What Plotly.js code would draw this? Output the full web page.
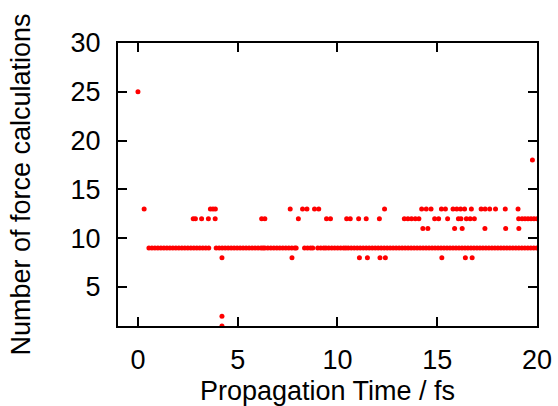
<!DOCTYPE html>
<html>
<head>
<meta charset="utf-8">
<script src="https://cdn.plot.ly/plotly-3.0.1.min.js"></script>
<style>html,body{margin:0;padding:0;background:#fff;}#chart{width:558px;height:406px;}</style>
</head>
<body>
<div id="chart"></div>
<script>
// Propagation times (fs) grouped by number of force calculations
const t9 = [0.55,0.7,0.85,1.0,1.15,1.3,1.45,1.6,1.75,1.9,2.05,2.2,2.35,2.5,2.65,2.8,2.95,3.1,3.25,3.4,3.55,
  3.92,4.07,4.22,4.37,4.52,4.67,4.82,4.97,5.12,5.27,5.42,5.57,5.72,5.87,6.02,6.17,6.27,
  6.36,6.51,6.66,6.81,6.96,7.11,7.26,7.41,7.56,7.71,7.86,7.93,
  8.35,8.5,8.65,8.76,
  9.01,9.16,9.31,9.42,
  9.56,9.71,9.86,10.01,10.16,10.31,10.42,
  10.54,10.69,10.84,10.99,11.14,11.29,11.44,11.59,11.74,11.89,12.04,12.19,12.34,12.49,12.64,12.79,12.94,
  13.09,13.24,13.39,13.54,13.69,13.84,13.99,14.14,14.29,14.44,14.59,14.74,14.89,15.04,15.19,15.34,15.49,
  15.64,15.79,15.94,16.09,16.24,16.39,16.54,16.69,16.84,16.99,17.14,17.29,17.44,17.59,17.74,17.89,18.04,
  18.19,18.34,18.49,18.64,18.79,18.94,19.09,19.24,19.39,19.54,19.69,19.84,19.99];
const t13 = [0.31,3.63,3.76,3.88,7.63,8.25,8.47,8.85,9.06,12.36,14.22,14.45,14.69,15.21,15.41,15.79,15.98,
  16.17,16.37,16.71,17.2,17.4,17.63,17.92,18.41,19.05];
const t12 = [2.77,2.88,3.19,3.53,3.87,6.2,6.36,8.04,9.45,9.65,10.46,10.64,11.06,11.44,12.1,13.35,13.53,13.71,
  13.9,14.08,14.87,15.07,15.52,16.06,16.19,16.46,16.65,16.86,19.08,19.25,19.4,19.55,19.7,19.85,20.0];
const t11 = [14.28,14.53,15.87,16.25,17.39,18.43,19.09];
const t8 = [4.21,7.72,11.1,11.5,12.13,12.4,15.23,16.41,16.75];
const t25 = [0];
const t18 = [19.77];
const t2 = [4.21];
const t1 = [4.21];

const groups = [[t25,25],[t18,18],[t13,13],[t12,12],[t11,11],[t9,9],[t8,8],[t2,2],[t1,1]];
const xs = [], ys = [];
groups.forEach(([ts, n]) => ts.forEach(t => { xs.push(t); ys.push(n); }));

const font = {family: '"Liberation Sans", Arial, sans-serif', size: 27, color: '#000'};

const trace = {
  x: xs, y: ys, type: 'scatter', mode: 'markers',
  marker: {color: '#ff0000', size: 5, line: {width: 0}},
  hoverinfo: 'skip'
};

const axisCommon = {
  showline: true, linecolor: '#000', linewidth: 2, mirror: 'ticks',
  ticks: 'inside', ticklen: 9, tickwidth: 2, tickcolor: '#000',
  showgrid: false, zeroline: false, tickfont: font
};

const layout = {
  width: 558, height: 406,
  margin: {l: 118, r: 21, t: 43, b: 80},
  paper_bgcolor: '#fff', plot_bgcolor: '#fff',
  font: font,
  showlegend: false,
  xaxis: Object.assign({}, axisCommon, {
    range: [-1, 20], tick0: 0, dtick: 5, ticklabelstandoff: 9,
    title: {text: 'Propagation Time / fs', font: font, standoff: 8}
  }),
  yaxis: Object.assign({}, axisCommon, {
    range: [1, 30], tick0: 0, dtick: 5, ticklabelstandoff: 10,
    title: {text: 'Number of force calculations', font: font, standoff: 32}
  })
};

Plotly.newPlot('chart', [trace], layout, {displayModeBar: false, staticPlot: true});
</script>
</body>
</html>
